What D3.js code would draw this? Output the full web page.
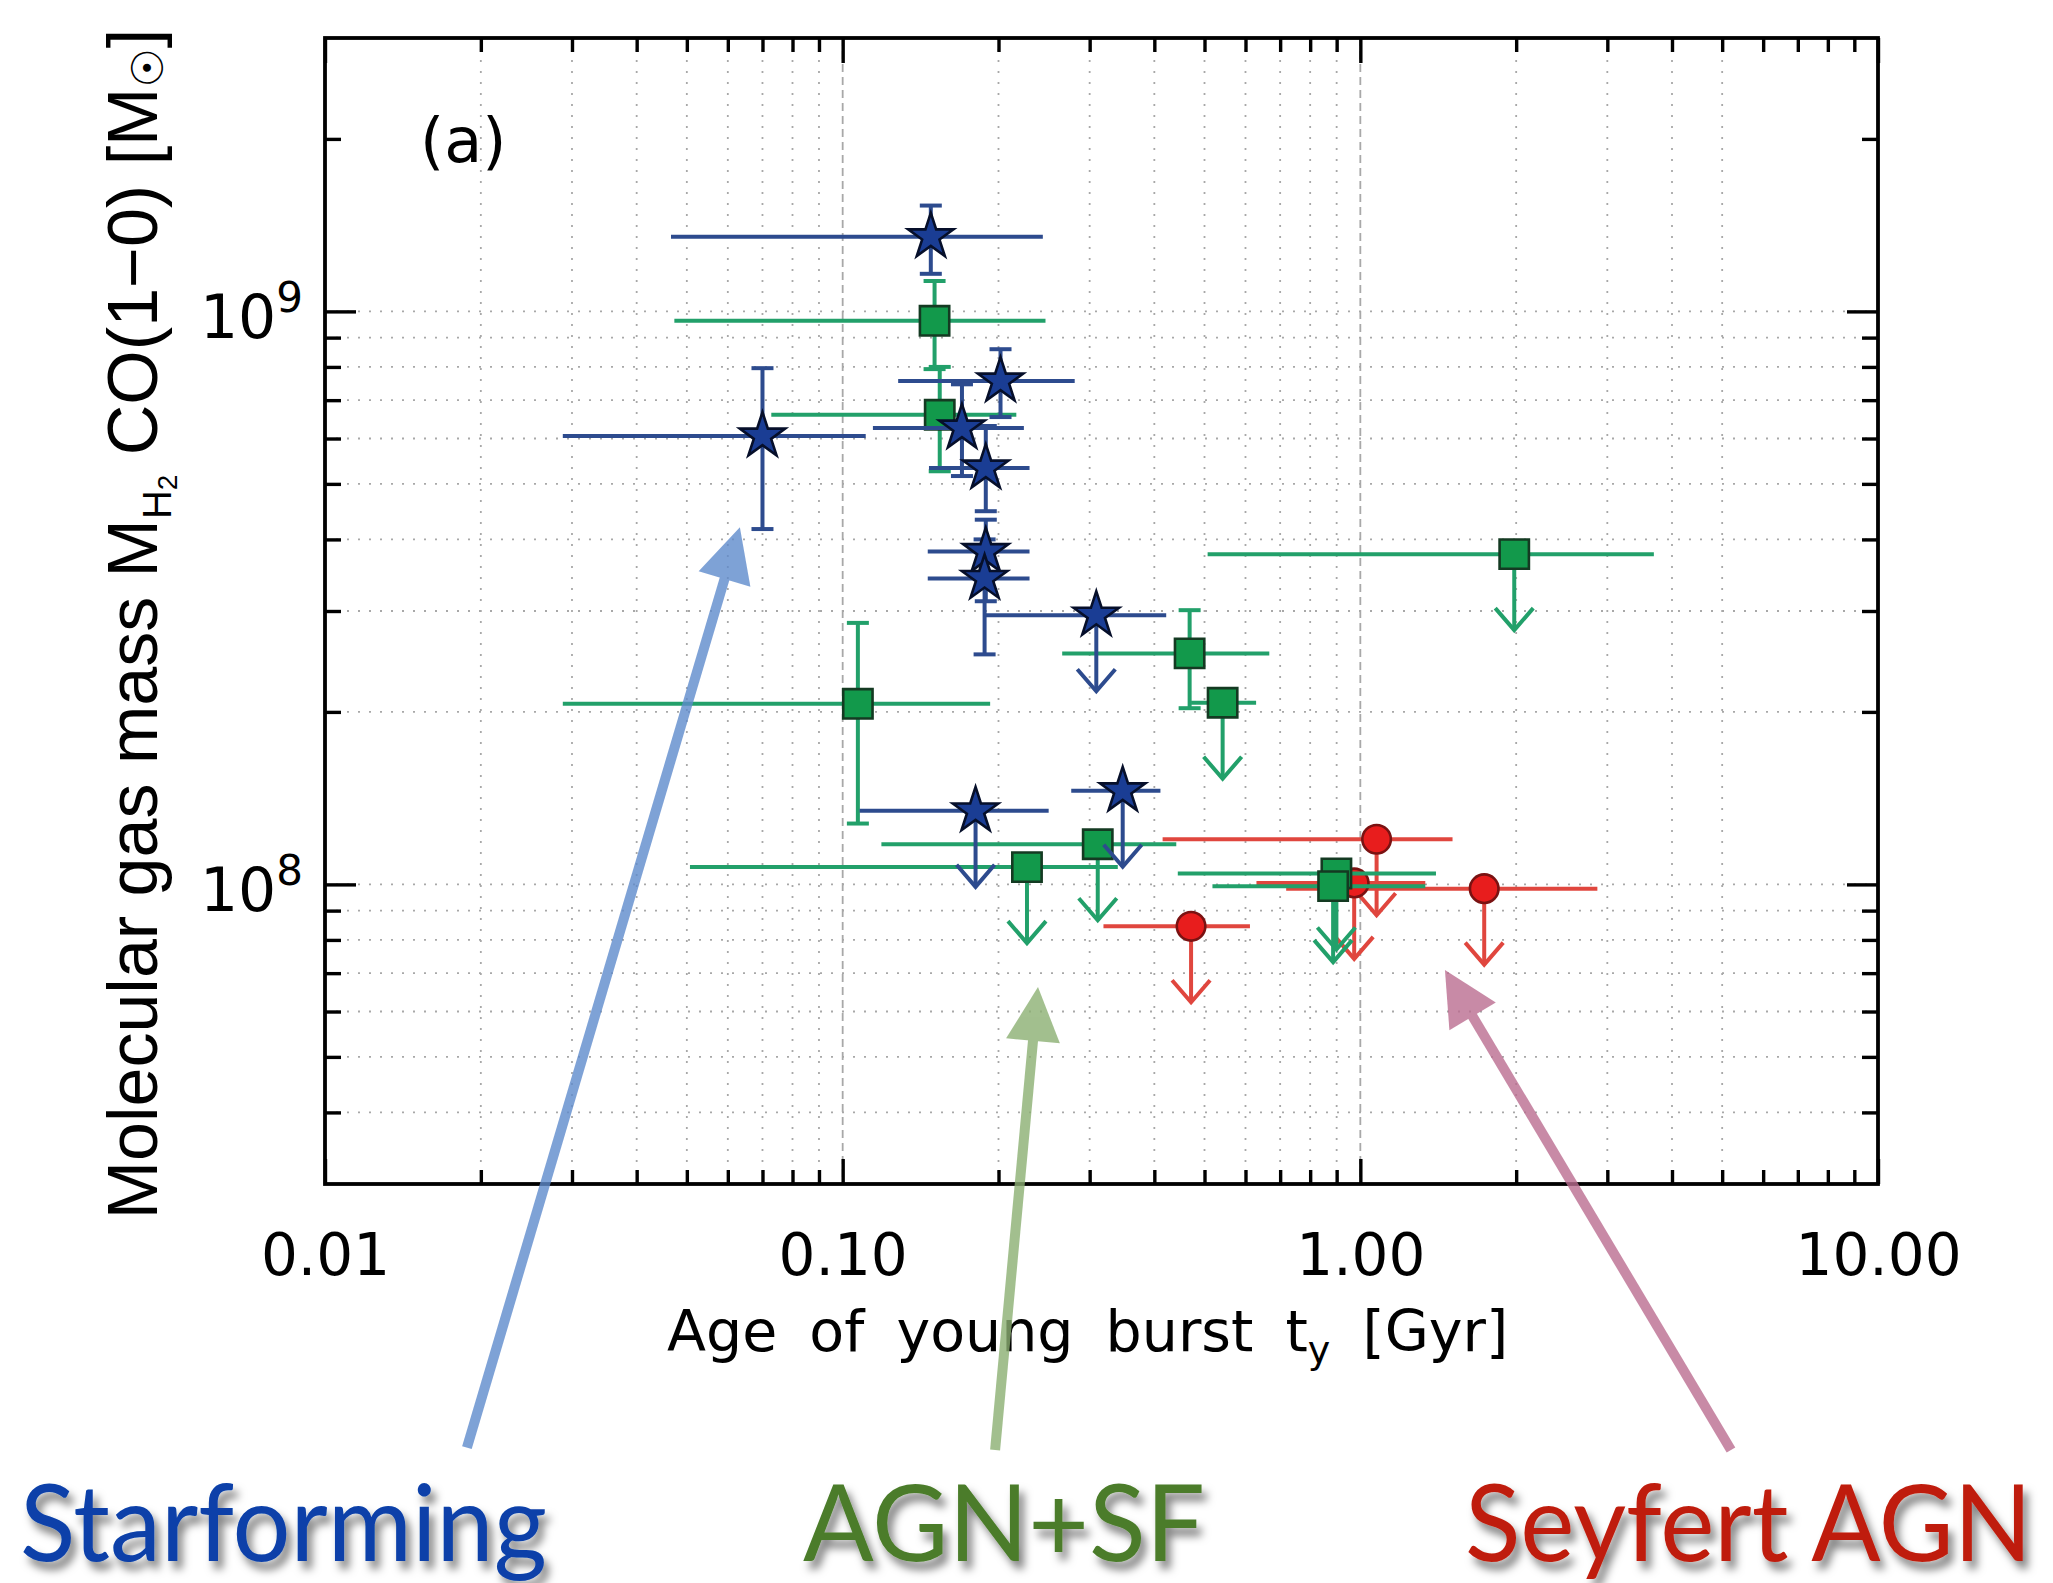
<!DOCTYPE html>
<html><head><meta charset="utf-8">
<script src="https://cdn.jsdelivr.net/npm/d3@7"></script>
<style>body{margin:0;background:#fff}svg{display:block}</style>
</head><body>
<svg id="c" width="2053" height="1583"></svg>
<script>
// ---------------- data ----------------
const xTickValues = [0.01, 0.1, 1, 10];
const xTickLabels = ["0.01", "0.10", "1.00", "10.00"];
const yTickValues = [1e8, 1e9];
const yTickExponents = ["8", "9"];

// Starforming (blue stars)
const sfAge    = [0.148, 0.070, 0.2018, 0.170, 0.189, 0.189, 0.188, 0.309, 0.1806, 0.3475];
const sfAgeLo  = [0.0466, 0.0288, 0.128, 0.1144, 0.1468, 0.146, 0.146, 0.188, 0.1078, 0.2764];
const sfAgeHi  = [0.2436, 0.1108, 0.2807, 0.2239, 0.2296, 0.2296, 0.2296, 0.4217, 0.25, 0.411];
const sfMass   = [1.35e9, 6.06e8, 7.56e8, 6.26e8, 5.33e8, 3.81e8, 3.42e8, 2.95e8, 1.344e8, 1.457e8];
const sfMassLo = [1.163e9, 4.17e8, 6.54e8, 5.16e8, 4.48e8, 3.12e8, 2.52e8, null, null, null];
const sfMassHi = [1.53e9, 7.96e8, 8.59e8, 7.46e8, 6.31e8, 4.33e8, 4.0e8, null, null, null];
const sfLimit  = [false, false, false, false, false, false, false, true, true, true];

// AGN+SF (green squares)
const mixAge    = [0.1505, 0.154, 0.107, 0.468, 0.542, 1.983, 0.227, 0.311, 0.899, 0.886];
const mixAgeLo  = [0.0473, 0.0728, 0.0288, 0.2655, 0.471, 0.507, 0.0507, 0.1188, 0.444, 0.518];
const mixAgeHi  = [0.2465, 0.2165, 0.1927, 0.667, 0.629, 3.69, 0.34, 0.441, 1.40, 1.335];
const mixMass   = [9.63e8, 6.6e8, 2.066e8, 2.53e8, 2.075e8, 3.77e8, 1.072e8, 1.175e8, 1.045e8, 0.993e8];
const mixMassLo = [7.93e8, 5.26e8, 1.277e8, 2.03e8, null, null, null, null, null, null];
const mixMassHi = [1.13e9, 8.0e8, 2.86e8, 3.01e8, null, null, null, null, null, null];
const mixLimit  = [false, false, false, false, true, true, true, true, true, true];

// Seyfert AGN (red circles)
const seyAge    = [1.075, 0.973, 1.735, 0.471];
const seyAgeLo  = [0.415, 0.63, 0.719, 0.319];
const seyAgeHi  = [1.507, 1.335, 2.87, 0.612];
const seyMass   = [1.199e8, 1.006e8, 0.983e8, 0.845e8];
const seyMassLo = [null, null, null, null];
const seyMassHi = [null, null, null, null];
const seyLimit  = [true, true, true, true];

// annotation arrows (data coordinates, tails extend below the axis)
const annoNames = ["Starforming", "AGN+SF", "Seyfert AGN"];
const annoTipX  = [0.0633, 0.2384, 1.457];
const annoTipY  = [4.2e8, 6.62e7, 7.09e7];
const annoTailX = [0.0188, 0.197, 5.2];
const annoTailY = [1.04e7, 1.03e7, 1.03e7];

// ---------------- layout ----------------
const M = {left: 325, right: 1878, top: 38, bottom: 1184};
const svg = d3.select("#c");
const x = d3.scaleLog().domain([0.01, 10]).range([M.left, M.right]);
const y = d3.scaleLog().domain([3e7, 3e9]).range([M.bottom, M.top]);

const defs = svg.append("defs");
const f = defs.append("filter").attr("id", "shadow").attr("x", "-10%").attr("y", "-30%").attr("width", "130%").attr("height", "170%");
f.append("feDropShadow").attr("dx", 5).attr("dy", 8).attr("stdDeviation", 4)
  .attr("flood-color", "#000").attr("flood-opacity", 0.5);

// minor tick values
const xMinor = [];
[0.01, 0.1, 1].forEach(d => { for (let k = 2; k <= 9; k++) xMinor.push(+(d * k).toPrecision(3)); });
const yMinor = [];
[1e7, 1e8, 1e9].forEach(d => { for (let k = 2; k <= 9; k++) { const v = d * k; if (v > 3e7 && v < 3e9) yMinor.push(v); } });

// ---------------- grid ----------------
const xGridMinor = xMinor.filter(v => v <= 5);
const xGridMajor = [0.1, 1];
const yGrid = yMinor.filter(v => v <= 1e9).concat([1e8, 1e9]);
const grid = svg.append("g");
grid.selectAll("line.gx").data(xGridMinor).join("line")
  .attr("x1", d => x(d)).attr("x2", d => x(d)).attr("y1", M.top).attr("y2", M.bottom)
  .attr("stroke", "#a8a8a8").attr("stroke-width", 1.8).attr("stroke-dasharray", "2,9");
grid.selectAll("line.gX").data(xGridMajor).join("line")
  .attr("x1", d => x(d)).attr("x2", d => x(d)).attr("y1", M.top).attr("y2", M.bottom)
  .attr("stroke", "#a8a8a8").attr("stroke-width", 1.8).attr("stroke-dasharray", "8,5");
grid.selectAll("line.gy").data(yGrid).join("line")
  .attr("y1", d => y(d)).attr("y2", d => y(d)).attr("x1", M.left).attr("x2", M.right)
  .attr("stroke", "#a8a8a8").attr("stroke-width", 1.8).attr("stroke-dasharray", "2,9");

// ---------------- axes ----------------
function styleAxis(g) {
  g.select(".domain").remove();
  g.selectAll(".tick line").attr("stroke", "#000").attr("stroke-width", 3.4);
}
svg.append("g").attr("transform", `translate(0,${M.bottom})`)
  .call(d3.axisBottom(x).tickValues(xMinor).tickSize(-14).tickFormat("")).call(styleAxis);
const gxb = svg.append("g").attr("transform", `translate(0,${M.bottom})`)
  .call(d3.axisBottom(x).tickValues(xTickValues).tickSize(-25).tickFormat((d, i) => xTickLabels[i])).call(styleAxis);
gxb.selectAll(".tick text").attr("y", 91).attr("dy", null)
  .attr("font-family", "DejaVu Sans").attr("font-size", 58).attr("fill", "#000");
svg.append("g").attr("transform", `translate(0,${M.top})`)
  .call(d3.axisTop(x).tickValues(xMinor).tickSize(-14).tickFormat("")).call(styleAxis);
svg.append("g").attr("transform", `translate(0,${M.top})`)
  .call(d3.axisTop(x).tickValues(xTickValues).tickSize(-25).tickFormat("")).call(styleAxis);

svg.append("g").attr("transform", `translate(${M.left},0)`)
  .call(d3.axisLeft(y).tickValues(yMinor).tickSize(-16).tickFormat("")).call(styleAxis);
const gyl = svg.append("g").attr("transform", `translate(${M.left},0)`)
  .call(d3.axisLeft(y).tickValues(yTickValues).tickSize(-31).tickPadding(22).tickFormat("")).call(styleAxis);
gyl.selectAll(".tick text").each(function(d, i) {
  const t = d3.select(this).attr("dy", 26).attr("font-family", "DejaVu Sans").attr("font-size", 60).attr("fill", "#000");
  t.append("tspan").text("10");
  t.append("tspan").attr("font-size", 42).attr("dy", -26).text(yTickExponents[i]);
});
svg.append("g").attr("transform", `translate(${M.right},0)`)
  .call(d3.axisRight(y).tickValues(yMinor).tickSize(-16).tickFormat("")).call(styleAxis);
svg.append("g").attr("transform", `translate(${M.right},0)`)
  .call(d3.axisRight(y).tickValues(yTickValues).tickSize(-31).tickFormat("")).call(styleAxis);

svg.append("rect").attr("x", M.left).attr("y", M.top)
  .attr("width", M.right - M.left).attr("height", M.bottom - M.top)
  .attr("fill", "none").attr("stroke", "#000").attr("stroke-width", 3.8);

// axis titles
const xt = svg.append("text").attr("x", 667).attr("y", 1351)
  .attr("font-family", "DejaVu Sans").attr("font-size", 57).attr("word-spacing", 14).attr("fill", "#000");
xt.append("tspan").text("Age of young burst t");
xt.append("tspan").attr("font-size", 38).attr("dy", 12).text("y");
xt.append("tspan").attr("dy", -12).text(" [Gyr]");

const yt = svg.append("text").attr("transform", "translate(157,624) rotate(-90)")
  .attr("text-anchor", "middle").attr("font-family", "Liberation Sans, Arial, sans-serif")
  .attr("font-size", 70).attr("fill", "#000");
yt.append("tspan").text("Molecular gas mass M");
yt.append("tspan").attr("font-size", 40).attr("dy", 14).text("H");
yt.append("tspan").attr("font-size", 28).attr("dy", 6).text("2");
yt.append("tspan").attr("dy", -20).text(" CO(1\u22120) [M");
yt.append("tspan").attr("font-family", "DejaVu Sans").attr("font-size", 44).attr("dy", 6).text("\u2609");
yt.append("tspan").attr("dy", -6).text("]");

svg.append("text").attr("x", 420).attr("y", 162)
  .attr("font-family", "DejaVu Sans").attr("font-size", 62).attr("fill", "#000").text("(a)");

// ---------------- data series ----------------
const series = [
  {age: seyAge, lo: seyAgeLo, hi: seyAgeHi, m: seyMass, mlo: seyMassLo, mhi: seyMassHi, lim: seyLimit,
   line: "#e0463e", fill: "#e81d1d", stroke: "#7a1212", shape: d3.symbolCircle, size: 640},
  {age: mixAge, lo: mixAgeLo, hi: mixAgeHi, m: mixMass, mlo: mixMassLo, mhi: mixMassHi, lim: mixLimit,
   line: "#22a06a", fill: "#12994b", stroke: "#143a22", shape: d3.symbolSquare, size: 860},
  {age: sfAge, lo: sfAgeLo, hi: sfAgeHi, m: sfMass, mlo: sfMassLo, mhi: sfMassHi, lim: sfLimit,
   line: "#2d4b8e", fill: "#1a3d94", stroke: "#060f2a", shape: d3.symbolStar, size: 640}
];
const ARROW = 76, HEAD_W = 19, HEAD_H = 22, CAP = 11, LW = 4;

series.forEach(s => {
  const g = svg.append("g");
  const idx = d3.range(s.age.length);
  g.selectAll("line.h").data(idx).join("line")
    .attr("x1", i => x(s.lo[i])).attr("x2", i => x(s.hi[i]))
    .attr("y1", i => y(s.m[i])).attr("y2", i => y(s.m[i]))
    .attr("stroke", s.line).attr("stroke-width", LW);
  const eb = idx.filter(i => !s.lim[i]);
  g.selectAll("line.v").data(eb).join("line")
    .attr("x1", i => x(s.age[i])).attr("x2", i => x(s.age[i]))
    .attr("y1", i => y(s.mlo[i])).attr("y2", i => y(s.mhi[i]))
    .attr("stroke", s.line).attr("stroke-width", LW);
  ["mlo", "mhi"].forEach(k => {
    g.selectAll("line.c" + k).data(eb).join("line")
      .attr("x1", i => x(s.age[i]) - CAP).attr("x2", i => x(s.age[i]) + CAP)
      .attr("y1", i => y(s[k][i])).attr("y2", i => y(s[k][i]))
      .attr("stroke", s.line).attr("stroke-width", LW);
  });
  const ul = idx.filter(i => s.lim[i]);
  g.selectAll("line.a").data(ul).join("line")
    .attr("x1", i => x(s.age[i])).attr("x2", i => x(s.age[i]))
    .attr("y1", i => y(s.m[i])).attr("y2", i => y(s.m[i]) + ARROW)
    .attr("stroke", s.line).attr("stroke-width", LW);
  g.selectAll("path.a").data(ul).join("path")
    .attr("d", i => {
      const cx = x(s.age[i]), ty = y(s.m[i]) + ARROW;
      return `M${cx - HEAD_W},${ty - HEAD_H}L${cx},${ty}L${cx + HEAD_W},${ty - HEAD_H}`;
    })
    .attr("fill", "none").attr("stroke", s.line).attr("stroke-width", LW).attr("stroke-linejoin", "miter");
  g.selectAll("path.m").data(idx).join("path")
    .attr("transform", i => `translate(${x(s.age[i])},${y(s.m[i])})`)
    .attr("d", d3.symbol(s.shape, s.size)())
    .attr("fill", s.fill).attr("stroke", s.stroke).attr("stroke-width", 2.6);
});

// ---------------- annotation arrows ----------------
const annoColors = ["#5f8bcc", "#8cb073", "#bb6d90"];
annoNames.forEach((n, i) => {
  const tx = x(annoTipX[i]), ty = y(annoTipY[i]);
  const sx = x(annoTailX[i]), sy = y(annoTailY[i]);
  const L = Math.hypot(tx - sx, ty - sy);
  const ux = (tx - sx) / L, uy = (ty - sy) / L;
  const HL = 54, HW = 27;
  const bx = tx - ux * HL, by = ty - uy * HL;
  const g = svg.append("g").attr("opacity", 0.8);
  g.append("line").attr("x1", sx).attr("y1", sy).attr("x2", bx + ux * 2).attr("y2", by + uy * 2)
    .attr("stroke", annoColors[i]).attr("stroke-width", 10).attr("stroke-linecap", "butt");
  g.append("path")
    .attr("d", `M${tx},${ty}L${bx - uy * HW},${by + ux * HW}L${bx + uy * HW},${by - ux * HW}Z`)
    .attr("fill", annoColors[i]);
});

// ---------------- category labels ----------------
const labelX = [20, 803, 1465];
const labelW = [527, 402, 567];
const labelColors = ["#0a41a9", "#4b7c2b", "#bf1d0b"];
annoNames.forEach((n, i) => {
  svg.append("text").attr("x", labelX[i]).attr("y", 1561)
    .attr("font-family", "Lato, 'Open Sans', sans-serif").attr("font-size", 106)
    .attr("textLength", labelW[i]).attr("lengthAdjust", "spacingAndGlyphs")
    .attr("fill", labelColors[i]).attr("filter", "url(#shadow)").text(n);
});
</script>
</body></html>
